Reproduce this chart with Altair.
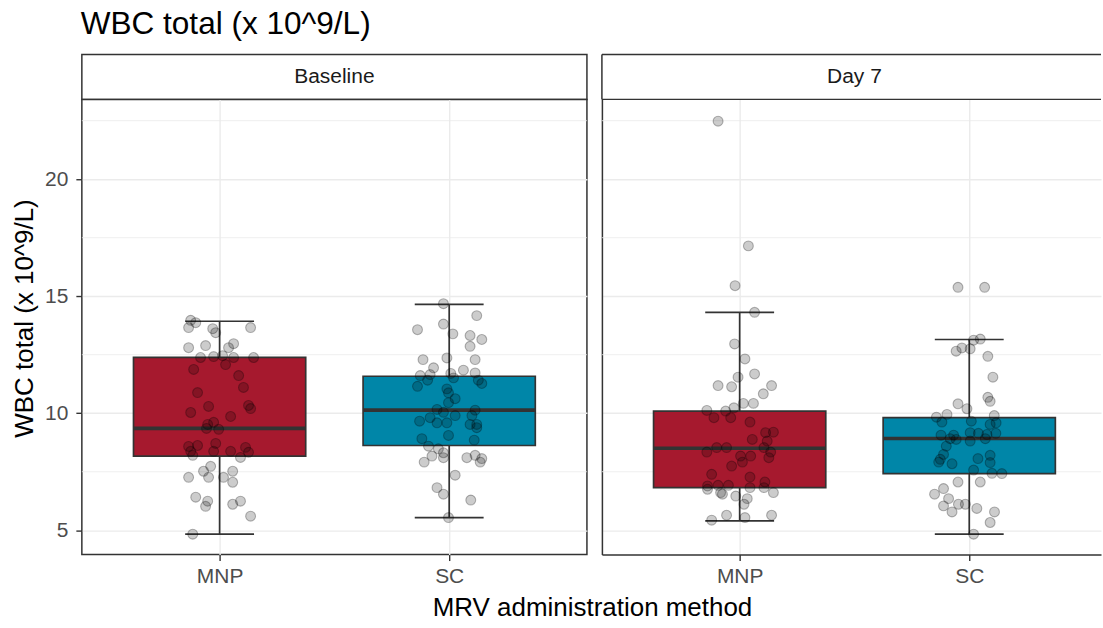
import altair as alt
import pandas as pd

FONT = "Liberation Sans"

groups = ["MNP", "SC"]
timepoints = ["Baseline", "Day 7"]
colors = ["#A6192E", "#0086A8"]

# box statistics (whisker low, Q1, median, Q3, whisker high)
box_time = ["Baseline", "Baseline", "Day 7", "Day 7"]
box_group = ["MNP", "SC", "MNP", "SC"]
box_lo = [4.83, 5.54, 5.40, 4.83]
box_q1 = [8.17, 8.62, 6.82, 7.42]
box_med = [9.35, 10.13, 8.50, 8.92]
box_q3 = [12.39, 11.58, 10.09, 9.81]
box_hi = [13.93, 14.65, 14.31, 13.15]

# jittered observations: values and horizontal jitter (category units)
v_bm = [13.97, 13.87, 13.66, 13.61, 13.44, 13.66, 12.80, 12.89, 12.97, 12.80,
        12.38, 12.42, 12.46, 12.08, 12.38, 12.38, 11.87, 11.61, 11.10, 10.88,
        10.29, 10.33, 10.20, 10.03, 9.86, 9.52, 9.61, 9.35, 9.31, 8.58,
        8.62, 8.37, 8.20, 8.71, 8.37, 8.37, 8.54, 8.33, 8.11, 7.73,
        7.52, 7.52, 7.26, 7.26, 7.26, 7.05, 6.41, 6.24, 6.02, 6.11,
        6.24, 5.60, 4.83]
j_bm = [-0.126, -0.104, -0.135, -0.030, -0.017, 0.135, -0.135, -0.061, 0.061, 0.039,
        -0.083, -0.026, 0.013, 0.026, 0.061, 0.148, -0.113, 0.083, 0.104, -0.096,
        -0.048, 0.126, 0.135, -0.126, 0.048, -0.052, -0.026, -0.057, -0.004, -0.135,
        -0.096, -0.126, -0.117, -0.017, -0.026, 0.048, 0.113, 0.126, 0.091, -0.039,
        -0.070, 0.057, -0.135, -0.048, 0.017, 0.057, -0.104, -0.052, -0.061, 0.057,
        0.091, 0.135, -0.117]

v_bs = [14.68, 14.17, 13.57, 13.81, 13.39, 13.32, 13.15, 12.86, 12.29, 12.36,
        12.29, 11.94, 11.61, 11.65, 11.70, 11.84, 11.72, 11.41, 11.51, 11.41,
        11.27, 11.15, 11.04, 10.87, 10.62, 10.45, 10.16, 10.04, 10.13, 9.90,
        9.90, 9.81, 9.66, 9.59, 9.59, 9.52, 9.52, 9.38, 8.91, 9.05,
        8.85, 8.59, 8.48, 8.31, 8.10, 8.17, 7.91, 8.10, 8.20, 8.06,
        7.91, 7.35, 6.82, 6.54, 6.29, 5.54]
j_bs = [-0.025, 0.120, -0.138, -0.025, 0.016, 0.091, 0.142, 0.091, -0.114, -0.010,
        0.113, -0.068, -0.126, -0.083, 0.007, 0.062, 0.113, -0.094, 0.019, 0.127,
        0.142, -0.138, -0.010, -0.003, 0.026, -0.003, -0.053, -0.025, 0.113, 0.099,
        0.026, -0.083, -0.129, -0.053, -0.010, 0.091, 0.120, 0.120, -0.119, -0.003,
        0.109, -0.090, -0.047, -0.025, -0.025, -0.075, -0.109, 0.077, 0.113, 0.142,
        0.135, 0.026, -0.053, -0.025, 0.094, -0.003]

v_dm = [22.48, 17.15, 15.45, 14.31, 12.96, 12.32, 11.54, 11.68, 11.18, 11.13,
        11.18, 10.83, 10.42, 10.42, 10.12, 9.81, 10.09, 9.81, 10.23, 9.62,
        9.17, 9.19, 8.88, 8.81, 8.53, 8.53, 8.34, 8.53, 8.34, 8.17,
        8.17, 8.10, 7.91, 7.74, 7.39, 7.27, 7.06, 6.89, 6.92, 6.92,
        6.82, 6.82, 6.75, 6.61, 6.54, 6.46, 6.35, 6.61, 6.11, 5.43,
        5.64, 5.54, 5.64]
j_dm = [-0.094, 0.038, -0.020, 0.065, -0.022, 0.023, -0.007, 0.065, -0.094, -0.035,
        0.139, 0.103, 0.016, 0.060, -0.143, -0.112, -0.061, -0.039, -0.025, 0.045,
        0.113, 0.147, 0.055, 0.120, -0.100, -0.057, -0.143, 0.106, 0.135, 0.004,
        0.048, 0.127, 0.012, -0.035, -0.122, 0.045, 0.110, -0.140, -0.094, -0.049,
        0.045, 0.106, -0.140, -0.083, -0.075, -0.017, 0.033, 0.147, 0.019, -0.122,
        -0.057, 0.023, 0.139]

v_ds = [15.38, 15.38, 13.17, 13.12, 12.79, 12.65, 12.75, 12.43, 11.54, 10.68,
        10.51, 10.40, 10.19, 9.83, 9.95, 9.90, 9.62, 9.66, 9.52, 9.59,
        9.06, 9.06, 9.17, 9.14, 9.09, 9.14, 8.91, 8.88, 8.81, 8.91,
        8.59, 8.24, 8.03, 7.91, 7.84, 8.06, 8.20, 7.89, 7.57, 7.43,
        7.42, 7.06, 7.06, 6.78, 6.54, 6.35, 6.11, 6.11, 6.04, 5.78,
        5.93, 5.78, 5.33, 4.83]
j_ds = [-0.049, 0.067, 0.048, 0.019, -0.032, -0.057, 0.004, 0.081, 0.103, 0.081,
        0.091, -0.049, -0.010, -0.143, -0.097, 0.109, -0.119, 0.009, 0.091, 0.117,
        -0.123, -0.068, 0.004, 0.040, 0.077, 0.116, -0.083, -0.057, 0.004, 0.070,
        -0.100, -0.112, -0.126, -0.133, -0.075, 0.038, 0.091, 0.091, 0.019, 0.099,
        0.142, -0.049, 0.048, -0.112, -0.151, -0.090, -0.047, -0.017, -0.112, -0.075,
        0.033, 0.110, 0.091, 0.019]

major_breaks = [5, 10, 15, 20]
minor_breaks = [7.5, 12.5, 17.5, 22.5]
y_domain = [3.96, 23.41]
x_lo, x_hi = 0.4, 2.6   # full panel range in category units

rows = []
for tp, grp, vals, jits in [("Baseline", "MNP", v_bm, j_bm), ("Baseline", "SC", v_bs, j_bs),
                            ("Day 7", "MNP", v_dm, j_dm), ("Day 7", "SC", v_ds, j_ds)]:
    for v, j in zip(vals, jits):
        rows.append({"time": tp, "group": grp, "gi": groups.index(grp) + 1, "v": v, "j": j})
pts = pd.DataFrame(rows)

box = pd.DataFrame({"time": box_time, "group": box_group, "lo": box_lo, "q1": box_q1,
                    "med": box_med, "q3": box_q3, "hi": box_hi})
box["gi"] = [groups.index(g) + 1 for g in box_group]
minor_df = pd.DataFrame({"v": minor_breaks})

GRID = "#EBEBEB"
DARK = "#333333"
FULL_W = 506      # width of a complete panel
RIGHT_W = 500     # the right panel is cut by the picture's edge
PLOT_H = 456

x_label_expr = f"datum.value == 1 ? '{groups[0]}' : '{groups[1]}'"


def panel(tp, width, left):
    frac = width / FULL_W
    xs = alt.Scale(domain=[x_lo, x_lo + (x_hi - x_lo) * frac], nice=False, zero=False)
    ys = alt.Scale(domain=y_domain, nice=False, zero=False)
    xaxis = alt.Axis(values=[1, 2], labelExpr=x_label_expr, title=None, grid=True,
                     gridColor=GRID, gridWidth=1.4, domain=not left, domainColor=DARK,
                     domainWidth=1.5, tickColor=DARK,
                     tickSize=6, tickWidth=1.4, labelFont=FONT, labelFontSize=21,
                     labelColor="#4D4D4D", labelPadding=5, labelFlush=False)
    if left:
        yaxis = alt.Axis(values=major_breaks, format="d", grid=True, gridColor=GRID,
                         gridWidth=1.4, domain=False, tickColor=DARK, tickSize=6,
                         tickWidth=1.4, labelFont=FONT, labelFontSize=21,
                         labelColor="#4D4D4D", labelPadding=8,
                         title="WBC total (x 10^9/L)", titleFont=FONT, titleFontSize=26,
                         titleFontWeight="normal", titleColor="black", titlePadding=7,
                         titleY=PLOT_H / 2 - 9, minExtent=0)
    else:
        yaxis = alt.Axis(values=major_breaks, grid=True, gridColor=GRID, gridWidth=1.4,
                         domain=True, domainColor=DARK, domainWidth=1.5,
                         ticks=False, labels=False, title=None,
                         minExtent=0, maxExtent=0)

    b = box[box.time == tp]
    p = pts[pts.time == tp]

    minor = alt.Chart(minor_df).mark_rule(color=GRID, strokeWidth=0.8).encode(
        y=alt.Y("v:Q", scale=ys, axis=yaxis))

    bb = alt.Chart(b).transform_calculate(
        cl="datum.gi - 0.15", cr="datum.gi + 0.15",
        bl="datum.gi - 0.375", br="datum.gi + 0.375")

    whisk = bb.mark_rule(color=DARK, strokeWidth=1.7).encode(
        x=alt.X("gi:Q", scale=xs, axis=xaxis),
        y=alt.Y("lo:Q", scale=ys, axis=yaxis), y2="hi:Q")
    cap_lo = bb.mark_rule(color=DARK, strokeWidth=1.7).encode(
        x=alt.X("cl:Q", scale=xs, axis=xaxis), x2="cr:Q",
        y=alt.Y("lo:Q", scale=ys, axis=yaxis))
    cap_hi = bb.mark_rule(color=DARK, strokeWidth=1.7).encode(
        x=alt.X("cl:Q", scale=xs, axis=xaxis), x2="cr:Q",
        y=alt.Y("hi:Q", scale=ys, axis=yaxis))
    rect = bb.mark_rect(stroke=DARK, strokeWidth=1.7, opacity=1).encode(
        x=alt.X("bl:Q", scale=xs, axis=xaxis), x2="br:Q",
        y=alt.Y("q1:Q", scale=ys, axis=yaxis), y2="q3:Q",
        fill=alt.Fill("group:N", scale=alt.Scale(domain=groups, range=colors), legend=None))
    med = bb.mark_rule(color=DARK, strokeWidth=3.6).encode(
        x=alt.X("bl:Q", scale=xs, axis=xaxis), x2="br:Q",
        y=alt.Y("med:Q", scale=ys, axis=yaxis))
    dots = alt.Chart(p).transform_calculate(pos="datum.gi + datum.j").mark_circle(
        size=98, color="black", fillOpacity=0.2, stroke="black", strokeOpacity=0.28,
        strokeWidth=1.1).encode(
        x=alt.X("pos:Q", scale=xs, axis=xaxis),
        y=alt.Y("v:Q", scale=ys, axis=yaxis))

    view = (alt.ViewBackground(stroke=DARK, strokeWidth=1.5, fill="white") if left
            else alt.ViewBackground(stroke="transparent", fill="white"))

    plot = alt.layer(minor, whisk, cap_lo, cap_hi, rect, med, dots).properties(
        width=width, height=PLOT_H, view=view)

    if left:
        strip = alt.Chart(pd.DataFrame({"t": [tp]})).mark_text(
            font=FONT, fontSize=21, color="#1A1A1A").encode(text="t:N").properties(
            width=width, height=45, view=view)
    else:
        # strip frame without its right side (cut off by the picture's edge)
        sx = alt.Scale(domain=[0, frac], nice=False, zero=False)
        sy = alt.Scale(domain=[0, 1], nice=False, zero=False)
        txt = alt.Chart(pd.DataFrame({"t": [tp]})).transform_calculate(c="0.5").mark_text(
            font=FONT, fontSize=21, color="#1A1A1A").encode(
            x=alt.X("c:Q", scale=sx, axis=None),
            y=alt.Y("c:Q", scale=sy, axis=None),
            text="t:N")
        hlines = alt.Chart(pd.DataFrame({"h": [0, 1]})).mark_rule(
            color=DARK, strokeWidth=1.5).encode(y=alt.Y("h:Q", scale=sy, axis=None))
        vline = alt.Chart(pd.DataFrame({"h": [0]})).mark_rule(
            color=DARK, strokeWidth=1.5).encode(x=alt.X("h:Q", scale=sx, axis=None))
        strip = alt.layer(txt, hlines, vline).properties(width=width, height=45, view=view)

    return alt.vconcat(strip, plot, spacing=0, bounds="flush")


body = alt.hconcat(panel("Baseline", FULL_W, True), panel("Day 7", RIGHT_W, False),
                   spacing=11).properties(
    title=alt.TitleParams("MRV administration method", orient="bottom", anchor="middle",
                          font=FONT, fontSize=26, fontWeight="normal", color="black",
                          offset=8, dx=36))

chart = alt.vconcat(body).properties(
    title=alt.TitleParams("WBC total (x 10^9/L)", anchor="start", font=FONT, fontSize=31.6,
                          fontWeight="normal", color="black", offset=13, dx=70),
    padding={"left": 10, "top": 8, "right": 0, "bottom": 0},
    background="white")

chart.save("out.html", embed_options={"renderer": "svg", "actions": False})
